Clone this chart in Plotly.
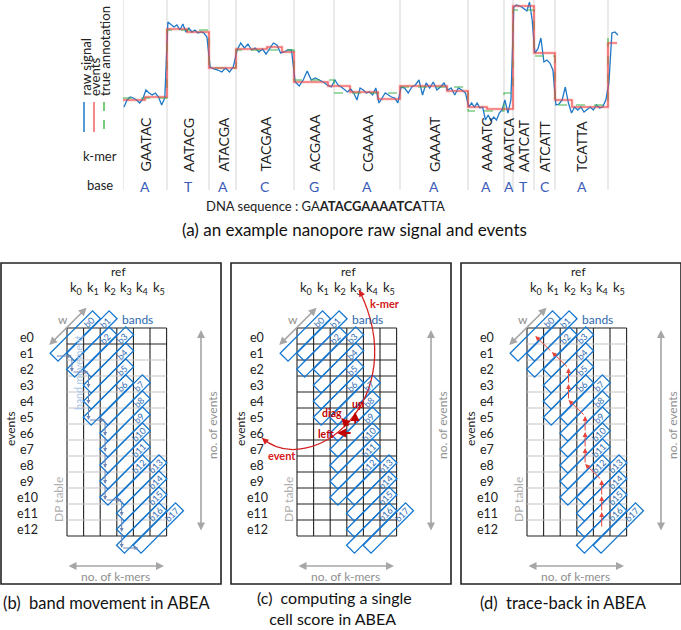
import math
import plotly.graph_objects as go

W, H = 681, 630
FONT = "Lato, 'Open Sans', sans-serif"

# ===================== (a) signal data =====================
kmers = ["GAATAC", "AATACG", "ATACGA", "TACGAA", "ACGAAA", "CGAAAA",
         "GAAAAT", "AAAATC", "AAATCA", "AATCAT", "ATCATT", "TCATTA"]
bases = ["A", "T", "A", "C", "G", "A", "A", "A", "A", "T", "C", "A"]
kmer_bounds = [0, 44, 86, 113, 171, 211, 277, 345, 381, 390, 411, 432, 485]
tail_end = 497

raw_signal = [
    [13, 20, 23, 22, 20, 17, 21, 30, 27, 25, 27, 23, 15, 22],
    [98, 95, 93, 95, 90, 96, 88, 92, 88, 90, 87, 88, 87, 83],
    [53, 51, 50, 48, 52, 48, 53],
    [70, 77, 72, 76, 70, 72, 68, 71, 66, 72, 77, 75, 67, 68, 70, 70],
    [38, 34, 40, 49, 40, 42, 40, 38, 35, 33],
    [40, 35, 33, 30, 28, 31, 27, 20, 32, 30, 27, 28, 25, 32, 17, 22, 27, 25, 23, 22, 17],
    [33, 32, 27, 33, 35, 40, 25, 37, 32, 38, 30, 33, 37, 30, 32, 25, 32, 30, 27],
    [13, 17, 13, 17, 12, 13, 0, 5, -1, 3, 0, 7, 10],
    [20, 7, 20],
    [113, 115, 114, 113, 111, 109, 118, 100],
    [67, 71, 82, 58, 60, 57, 50],
    [15, 16, 20, 33, 17, 7, 13, 10, 13, 8, 11, 13, 10, 15, 12, 13, 20],
    [37, 87, 88, 85],
]

event_starts = [0, 22, 44, 64, 86, 113, 144, 159, 171, 205, 227, 255, 277, 324,
                345, 364, 390, 411, 432, 449, 485]
event_levels = [20, 23, 91, 88, 52, 71, 73, 68, 38, 34, 28, 21, 34, 29,
                13, 11, 114, 67, 20, 13, 77]
event_end = 494

annotation_levels = [22, 90, 52, 70, 40, 27, 33, 9, 27, 110, 64, 15, 82]

dna_prefix, dna_bold, dna_suffix = "GA", "ATACGAAAATCA", "TTA"

# ===================== (b)-(d) DP table data =====================
kmer_labels = ["k0", "k1", "k2", "k3", "k4", "k5"]
event_labels = ["e%d" % i for i in range(13)]
band_moves = "RDRDDDRDDDDDRDDDR"          # R = next k-mer, D = next event
traceback_cells = [(4, 12), (4, 11), (4, 10), (4, 9), (3, 8), (3, 7), (3, 6),
                   (3, 5), (2, 4), (2, 3), (2, 2), (1, 1), (0, 0)]
computed_cell = (3, 6)

# ===================== layout constants =====================
SIG_X0, SIG_X1 = 123, 623      # pixel span of signal axis
SIG_Y1 = 122                   # pixel bottom of signal axis
PANEL_OFF = [0, 230, 460]
GX0, GY0, CW, CH = 67, 328, 16.6, 16
NC, NR = len(kmer_labels), len(event_labels)

BLUE = "#1f78c8"
BAND = "#1577d0"
GRAY = "#a6a6a6"
DRED = "#c00000"

fig = go.Figure()
shapes, ann = [], []

# ---------- signal traces ----------
rx, ry = [], []
seg_edges = kmer_bounds + [tail_end]
for k, vals in enumerate(raw_signal):
    a, b = seg_edges[k], seg_edges[k + 1]
    n = len(vals)
    for i, v in enumerate(vals):
        rx.append(a + (b - a) * (i + 0.3) / n)
        ry.append(v)

ex = event_starts + [event_end]
ey = event_levels + [event_levels[-1]]
ax_ = kmer_bounds + [event_end]
ay_ = annotation_levels + [annotation_levels[-1]]

fig.add_trace(go.Scatter(x=ex, y=ey, mode="lines", line=dict(color="rgba(255,120,120,0.35)", width=3, shape="hv"),
                         xaxis="x2", yaxis="y2", hoverinfo="skip"))
fig.add_trace(go.Scatter(x=rx, y=ry, mode="lines", line=dict(color=BLUE, width=1.3),
                         xaxis="x2", yaxis="y2"))
fig.add_trace(go.Scatter(x=ax_, y=ay_, mode="lines", line=dict(color="#3cb44b", width=1.1, dash="dash", shape="hv"),
                         xaxis="x2", yaxis="y2"))
fig.add_trace(go.Scatter(x=ex, y=ey, mode="lines", line=dict(color="#f04848", width=1.1, shape="hv"),
                         xaxis="x2", yaxis="y2"))

# boundaries, kmer labels, bases
for b in kmer_bounds:
    shapes.append(dict(type="line", xref="x2", yref="y", x0=b, x1=b, y0=0, y1=190,
                       line=dict(color="#d5d5d5", width=1), layer="below"))
for k, (km, bs) in enumerate(zip(kmers, bases)):
    xm = (kmer_bounds[k] + kmer_bounds[k + 1]) / 2
    ann.append(dict(x=xm, y=174, xref="x2", yref="y", text=km, showarrow=False, textangle=-90,
                    yanchor="bottom", font=dict(family=FONT, size=14, color="#222")))
    ann.append(dict(x=xm, y=186, xref="x2", yref="y", text=bs, showarrow=False,
                    font=dict(family=FONT, size=14, color="#3a5cb8")))
ann.append(dict(x=100, y=156, xref="x", yref="y", text="k-mer", showarrow=False,
                font=dict(family=FONT, size=13, color="#222")))
ann.append(dict(x=100, y=185, xref="x", yref="y", text="base", showarrow=False,
                font=dict(family=FONT, size=13, color="#222")))

# manual legend
leg = [("raw signal", BLUE, "solid"), ("events", "#f26060", "solid"), ("true annotation", "#4cbb4c", "dash")]
for i, (name, col, dash) in enumerate(leg):
    lx = 85 + 10 * i
    ann.append(dict(x=lx, y=98, xref="x", yref="y", text=name, showarrow=False, textangle=-90,
                    yanchor="bottom", font=dict(family=FONT, size=13.2, color="#222")))
    shapes.append(dict(type="line", xref="x", yref="y", x0=lx - 1, x1=lx - 1, y0=102, y1=132,
                       line=dict(color=col, width=1.5, dash=dash)))

ann.append(dict(x=325, y=206, xref="x", yref="y", showarrow=False,
                text="DNA sequence : " + dna_prefix + "<b>" + dna_bold + "</b>" + dna_suffix,
                font=dict(family=FONT, size=13, color="#222")))
ann.append(dict(x=354, y=229, xref="x", yref="y", showarrow=False,
                text="(a) an example nanopore raw signal and events",
                font=dict(family=FONT, size=17, color="#111")))

# ---------- DP panels ----------
def center(off, c, r):
    return off + GX0 + (c + 0.5) * CW, GY0 + (r + 0.5) * CH

def arrow(x0, y0, x1, y1, color, width=1.0, head=2, size=1.0, both=False):
    d = dict(x=x1, y=y1, ax=x0, ay=y0, xref="x", yref="y", axref="x", ayref="y",
             text="", showarrow=True, arrowhead=head, arrowsize=size, arrowwidth=width,
             arrowcolor=color, standoff=0, startstandoff=0)
    if both:
        d["arrowside"] = "end+start"
        d["startarrowhead"] = head
        d["startarrowsize"] = size
    return d

U = (1 / math.sqrt(2), -1 / math.sqrt(2))   # up-right on screen
N = (1 / math.sqrt(2), 1 / math.sqrt(2))    # down-right on screen

band_cells = [(0, 0)]
for m in band_moves:
    c, r = band_cells[-1]
    band_cells.append((c + 1, r) if m == "R" else (c, r + 1))

captions = [
    ("(b)  band movement in ABEA", 107, 603, 16.5),
    ("(c)  computing a single<br>   cell score in ABEA", 334, 608, 16),
    ("(d)  trace-back in ABEA", 563, 603, 16.5),
]

for p, off in enumerate(PANEL_OFF):
    shapes.append(dict(type="rect", xref="x", yref="y", x0=off + 1, x1=off + 221, y0=263, y1=584,
                       line=dict(color="#222", width=1.6)))
    gx0, gx1 = off + GX0, off + GX0 + NC * CW
    gy1 = GY0 + NR * CH
    for c in range(NC + 1):
        x = off + GX0 + c * CW
        shapes.append(dict(type="line", xref="x", yref="y", x0=x, x1=x, y0=GY0, y1=gy1,
                           line=dict(color="#222", width=1.1)))
    for r in range(NR + 1):
        y = GY0 + r * CH
        dark = (p == 1) or r == 0 or (p == 0 and r == 1) or r == NR
        shapes.append(dict(type="line", xref="x", yref="y", x0=gx0, x1=gx1, y0=y, y1=y,
                           line=dict(color="#222" if dark else "#c4c4c4", width=1.1)))
    ann.append(dict(x=off + 118, y=271, xref="x", yref="y", text="ref", showarrow=False,
                    font=dict(family=FONT, size=12, color="#222")))
    for c, kl in enumerate(kmer_labels):
        ann.append(dict(x=off + GX0 + (c + 0.5) * CW + 1, y=288, xref="x", yref="y",
                        text=kl[0] + "<sub>" + kl[1:] + "</sub>", showarrow=False,
                        font=dict(family=FONT, size=13, color="#222")))
    for r, el in enumerate(event_labels):
        ann.append(dict(x=off + 27, y=GY0 + (r + 0.5) * CH + 1, xref="x", yref="y", text=el,
                        showarrow=False, font=dict(family=FONT, size=12.5, color="#222")))
    ann.append(dict(x=off + 10, y=429, xref="x", yref="y", text="events", showarrow=False,
                    textangle=-90, font=dict(family=FONT, size=12, color="#222")))
    ann.append(dict(x=off + 58, y=500, xref="x", yref="y", text="DP table", showarrow=False,
                    textangle=-90, font=dict(family=FONT, size=12, color="#b0b0b0")))
    ann.append(arrow(off + 201, 532, off + 201, 330, GRAY, 1.6, 2, 1.0, both=True))
    ann.append(dict(x=off + 212, y=425, xref="x", yref="y", text="no. of events", showarrow=False,
                    textangle=-90, font=dict(family=FONT, size=12, color="#909090")))
    ann.append(arrow(off + 67, 566, off + 164, 566, GRAY, 1.6, 2, 1.0, both=True))
    ann.append(dict(x=off + 115, y=576, xref="x", yref="y", text="no. of k-mers", showarrow=False,
                    font=dict(family=FONT, size=12, color="#909090")))
    bx, by = center(off, 0, 0)
    wa = (bx - 27 * U[0] - 12 * N[0], by - 27 * U[1] - 12 * N[1])
    wb = (bx + 28 * U[0] - 12 * N[0], by + 28 * U[1] - 12 * N[1])
    ann.append(arrow(wa[0], wa[1], wb[0], wb[1], GRAY, 1.6, 2, 1.0, both=True))
    ann.append(dict(x=bx + 3 * U[0] - 21 * N[0], y=by + 3 * U[1] - 21 * N[1], xref="x", yref="y",
                    text="w", showarrow=False, font=dict(family=FONT, size=12, color="#909090")))
    ann.append(dict(x=off + 137, y=319, xref="x", yref="y", text="bands", showarrow=False,
                    font=dict(family=FONT, size=12, color="#2e68ad")))
    L, HW = 30, 5.6
    for i, (c, r) in enumerate(band_cells):
        cx, cy = center(off, c, r)
        pts = []
        for su, sn in [(-1, -1), (1, -1), (1, 1), (-1, 1)]:
            pts.append((cx + su * L * U[0] + sn * HW * N[0], cy + su * L * U[1] + sn * HW * N[1]))
        path = "M %.2f,%.2f L %.2f,%.2f L %.2f,%.2f L %.2f,%.2f Z" % tuple(v for pt in pts for v in pt)
        shapes.append(dict(type="path", xref="x", yref="y", path=path, line=dict(color=BAND, width=1.3)))
        ann.append(dict(x=cx + 19 * U[0], y=cy + 19 * U[1], xref="x", yref="y", text="b%d" % i,
                        showarrow=False, textangle=-45, font=dict(family=FONT, size=9, color="#2f6db3")))

    if p == 0:
        ends = [center(off, c, r) for c, r in band_cells]
        ends = [(x - 20, y + 20) for x, y in ends]
        for i in range(len(ends) - 1):
            ann.append(arrow(ends[i][0], ends[i][1], ends[i + 1][0], ends[i + 1][1], "#6f84b3", 1.0, 2, 0.8))
        ann.append(dict(x=off + 79, y=373, xref="x", yref="y", text="band movement", showarrow=False,
                        textangle=-90, font=dict(family=FONT, size=10.5, color="#a9c6e6")))
    if p == 1:
        cx, cy = center(off, *computed_cell)
        ann.append(arrow(cx, cy - 7, cx, cy - 20, DRED, 1.8, 2, 1.0))
        ann.append(arrow(cx - 5, cy - 5, cx - 14, cy - 14, DRED, 1.8, 2, 1.0))
        ann.append(arrow(cx - 3, cy + 1, cx - 18, cy + 1, DRED, 1.8, 2, 1.0))
        ann.append(dict(x=cx + 3, y=cy - 28, xref="x", yref="y", text="<b>up</b>", showarrow=False,
                        font=dict(family=FONT, size=10.5, color=DRED)))
        ann.append(dict(x=cx - 23, y=cy - 19, xref="x", yref="y", text="<b>diag</b>", showarrow=False,
                        font=dict(family=FONT, size=10.5, color=DRED)))
        ann.append(dict(x=cx - 29, y=cy + 2, xref="x", yref="y", text="<b>left</b>", showarrow=False,
                        font=dict(family=FONT, size=10.5, color=DRED)))
        p0 = (off + 32, GY0 + (computed_cell[1] + 0.5) * CH + 6)
        p3 = (off + GX0 + (computed_cell[0] + 0.5) * CW + 4, 290)
        c1 = (p0[0] + 48, p0[1] + 42)
        c2 = (p3[0] + 55, p3[1] + 111)
        shapes.append(dict(type="path", xref="x", yref="y",
                           path="M %.1f,%.1f C %.1f,%.1f %.1f,%.1f %.1f,%.1f" % (p0 + c1 + c2 + p3),
                           line=dict(color="#d42020", width=1.3)))
        ann.append(arrow(p0[0] + 6, p0[1] + 5.2, p0[0], p0[1], "#d42020", 1.3, 2, 1.0))
        ann.append(arrow(p3[0] + 3.2, p3[1] + 6, p3[0], p3[1], "#d42020", 1.3, 2, 1.0))
        ann.append(dict(x=off + 155, y=303, xref="x", yref="y", text="<b>k-mer</b>", showarrow=False,
                        font=dict(family=FONT, size=11, color="#d42020")))
        ann.append(dict(x=off + 52, y=455, xref="x", yref="y", text="<b>event</b>", showarrow=False,
                        font=dict(family=FONT, size=11, color="#d42020")))
    if p == 2:
        pts = [center(off, c, r) for c, r in traceback_cells]
        for i in range(len(pts) - 1):
            ann.append(arrow(pts[i][0], pts[i][1], pts[i + 1][0], pts[i + 1][1], "#e8463c", 1.0, 2, 1.0))

    txt, x, y, fs = captions[p]
    ann.append(dict(x=x, y=y, xref="x", yref="y", text=txt, showarrow=False, align="left",
                    font=dict(family=FONT, size=fs, color="#111")))

fig.update_layout(
    width=W, height=H, margin=dict(l=0, r=0, t=0, b=0),
    paper_bgcolor="white", plot_bgcolor="rgba(0,0,0,0)", showlegend=False,
    xaxis=dict(range=[0, W], domain=[0, 1], visible=False, fixedrange=True),
    yaxis=dict(range=[H, 0], domain=[0, 1], visible=False, fixedrange=True),
    xaxis2=dict(range=[0, SIG_X1 - SIG_X0], domain=[SIG_X0 / W, SIG_X1 / W], visible=False,
                anchor="y2", fixedrange=True),
    yaxis2=dict(range=[-2, 120], domain=[(H - SIG_Y1) / H, 1], visible=False,
                anchor="x2", fixedrange=True),
    shapes=shapes, annotations=ann,
)
fig.write_html("out.html", config={"displayModeBar": False},
               post_script="document.body.style.margin='0';document.body.style.overflow='hidden';")
